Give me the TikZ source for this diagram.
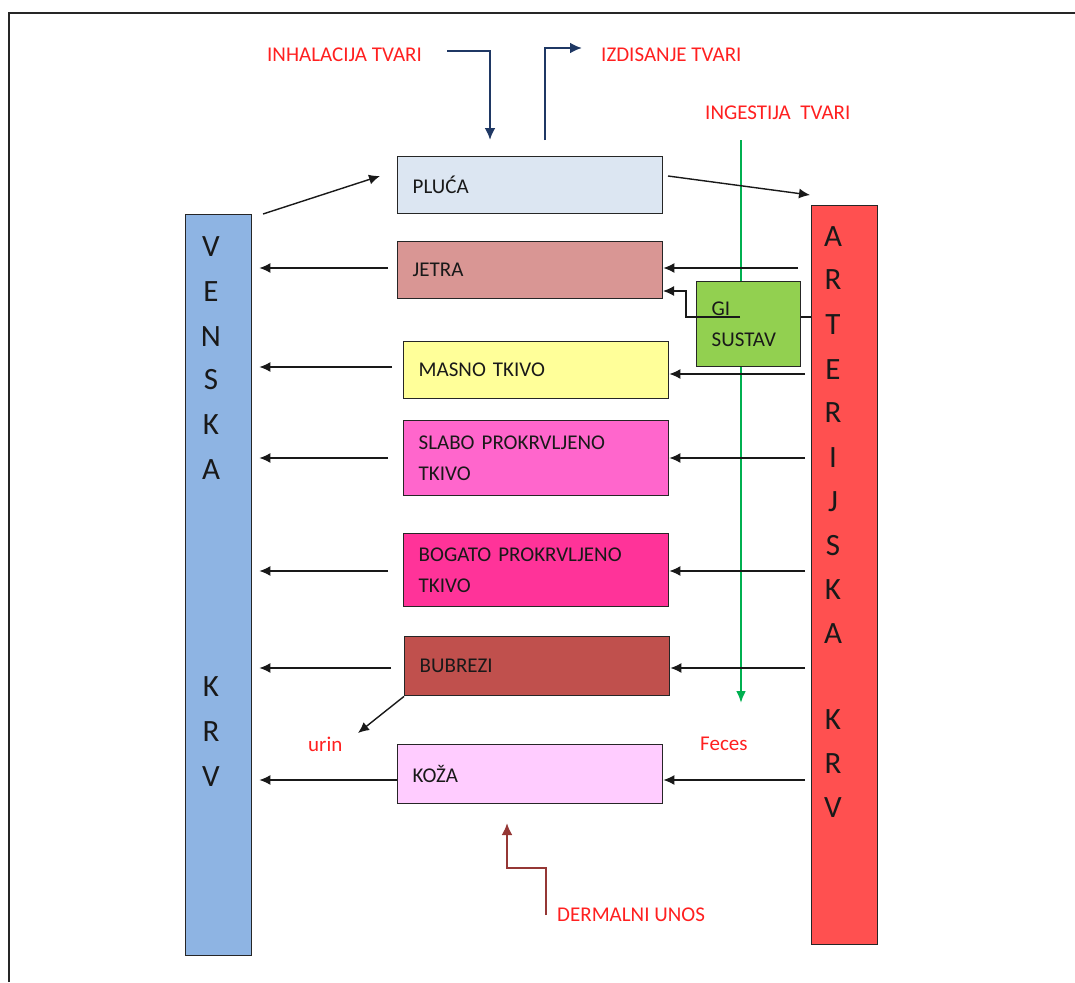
\documentclass[tikz,border=0pt]{standalone}
\usepackage{fontspec}
\setmainfont{Carlito}
\usetikzlibrary{arrows.meta}
\definecolor{cven}{HTML}{8EB4E3}
\definecolor{cart}{HTML}{FF5050}
\definecolor{cpluca}{HTML}{DCE6F2}
\definecolor{cjetra}{HTML}{D99694}
\definecolor{cgi}{HTML}{92D050}
\definecolor{cmasno}{HTML}{FFFF99}
\definecolor{cslabo}{HTML}{FF66CC}
\definecolor{cbogato}{HTML}{FF3399}
\definecolor{cbubrezi}{HTML}{C0504D}
\definecolor{ckoza}{HTML}{FFCCFF}
\definecolor{navy}{HTML}{1F3864}
\definecolor{derm}{HTML}{953735}
\definecolor{cgreen}{HTML}{00B050}
\definecolor{tred}{HTML}{FF2020}
\begin{document}
\begin{tikzpicture}[x=1pt,y=-1pt,
  organ/.style={draw=black!85, line width=1.4pt, anchor=north west, inner xsep=15pt, inner ysep=0pt,
    align=left, font=\fontsize{21}{31}\selectfont, text=black!90},
  bar/.style={draw=black!85, line width=1.4pt, anchor=north west, inner sep=0pt},
  vletter/.style={font=\fontsize{31}{31}\selectfont, inner sep=0pt, text=black!90},
  arr/.style={line width=1.4pt, draw=black!90, -{Latex[length=11pt,width=10pt]}},
  lbl/.style={text=tred, font=\fontsize{21}{24}\selectfont, inner sep=0pt, anchor=west},
  navyarr/.style={draw=navy, line width=2.8pt, -{Latex[length=12pt,width=11pt]}},
  greenarr/.style={draw=cgreen, line width=2.6pt, -{Latex[length=12pt,width=10pt]}},
  dermarr/.style={draw=derm, line width=2.8pt, -{Latex[length=12pt,width=11pt]}},
]
\useasboundingbox (0,0) rectangle (1075,982);
\fill[white] (0,0) rectangle (1075,982);
% frame
\draw[line width=2pt, black!85] (9,982) -- (9,13) -- (1075,13);

% green ingestion line (under boxes)
\coordinate (ings) at (741,140);
\coordinate (fec) at (741,703);
\draw[greenarr] (ings) -- (fec);

% blood bars
\node[bar, fill=cven, minimum width=66pt, minimum height=741pt] (ven) at (185,214) {};
\node[bar, fill=cart, minimum width=66pt, minimum height=739pt] (art) at (811,205) {};

\foreach \l/\y [count=\i] in {V/247,E/292,N/337,S/380,K/425,A/470,K/687,R/732,V/777}
  \node[vletter] (vl\i) at (211,\y) {\l};
\foreach \l/\y [count=\i] in {A/237,R/280,T/325,E/370,R/413,I/458,J/502,S/546,K/590,A/634,K/720,R/764,V/808}
  \node[vletter] (al\i) at (833,\y) {\l};

% organs
\node[organ, fill=cpluca, minimum width=265pt, minimum height=57pt, text width=235pt] (pluca) at (397,156) {PLUĆA};
\node[organ, fill=cjetra, minimum width=265pt, minimum height=57pt, text width=235pt] (jetra) at (397,241) {JETRA};
\node[organ, fill=cgi, minimum width=104pt, minimum height=85pt, text width=74pt] (gi) at (696,281) {GI\\SUSTAV};
\node[organ, fill=cmasno, minimum width=265pt, minimum height=57pt, text width=235pt] (masno) at (403,341) {MASNO TKIVO};
\node[organ, fill=cslabo, minimum width=265pt, minimum height=75pt, text width=235pt] (slabo) at (403,420) {SLABO PROKRVLJENO\\TKIVO};
\node[organ, fill=cbogato, minimum width=265pt, minimum height=73pt, text width=235pt] (bogato) at (403,533) {BOGATO PROKRVLJENO\\TKIVO};
\node[organ, fill=cbubrezi, minimum width=265pt, minimum height=59pt, text width=235pt] (bubrezi) at (404,636) {BUBREZI};
\node[organ, fill=ckoza, minimum width=265pt, minimum height=59pt, text width=235pt] (koza) at (397,744) {KOŽA};

% labels
\node[lbl] (inh) at (267,55) {INHALACIJA TVARI};
\node[lbl] (izd) at (601,55) {IZDISANJE TVARI};
\node[lbl] (ing) at (705,113) {INGESTIJA\ \ TVARI};
\node[lbl] (urin) at (308,744) {urin};
\node[lbl] (feces) at (700,744) {Feces};
\node[lbl] (der) at (557,915) {DERMALNI\ UNOS};

% inhalation / exhalation
\coordinate (inhs) at (447,51);
\coordinate (inhe) at (490,140);
\draw[navyarr] (inhs) -| (inhe);
\coordinate (izds) at (545,140);
\coordinate (izde) at (582,48);
\draw[navyarr] (izds) |- (izde);

% dermal
\coordinate (ders) at (546,915);
\coordinate (dere) at (507,823);
\draw[dermarr] (ders) -- ++(0,-47) -| (dere);

% lungs circulation
\coordinate (vp) at (263,214);
\coordinate (pv) at (380,176);
\draw[arr] (vp) -- (pv);
\coordinate (pa) at (668,176);
\coordinate (ap) at (810,195);
\draw[arr] (pa) -- (ap);

% organ -> venous
\foreach \o/\y/\g in {jetra/268/9, masno/367/11, slabo/458/15, bogato/571/15, bubrezi/668/13, koza/780/0}
  \draw[arr] ([xshift=-\g pt]\o.west |- 0,\y) -- ([xshift=7pt]ven.east |- 0,\y);

% arterial -> organ
\foreach \o/\y/\s in {jetra/268/798, masno/374/805, slabo/458/805, bogato/571/805, bubrezi/668/805, koza/780/805}
  \draw[arr] (\s,\y) -- (\o.east |- 0,\y);

% GI connections
\coordinate (gij) at (740,317);
\coordinate (jg) at (663,291);
\draw[arr] (gij) -- (686,317) |- (jg);
\draw[line width=1.4pt, black!90] (gi.east |- 0,317) -- (art.west |- 0,317);

% urine
\coordinate (ure) at (358,733);
\draw[arr] (bubrezi.south west) -- (ure);
\end{tikzpicture}
\end{document}
